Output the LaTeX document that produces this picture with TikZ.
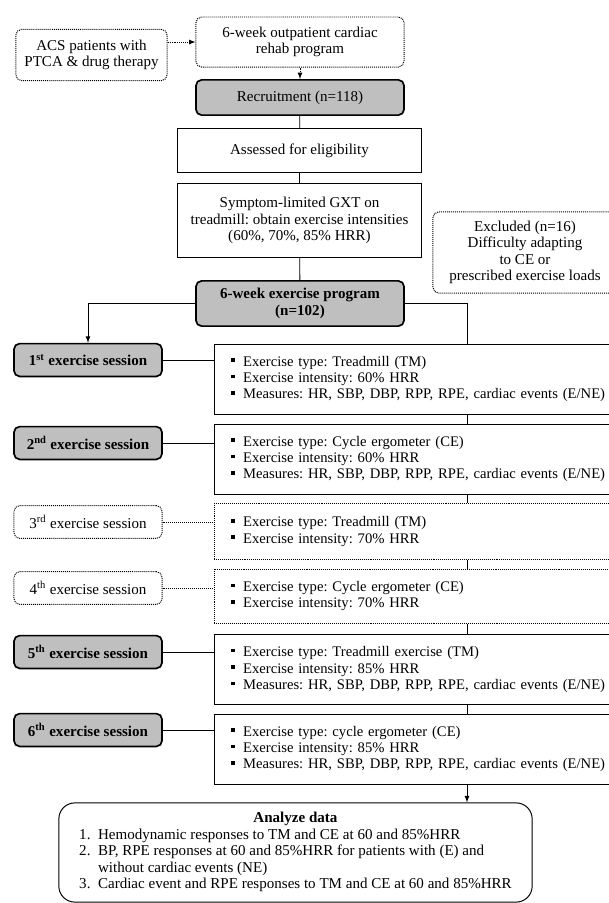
\documentclass[tikz,border=0pt]{standalone}
\usepackage{fontspec}
\setmainfont{Liberation Serif}
\usetikzlibrary{arrows}
\usetikzlibrary{positioning}
\tikzset{box/.style = {draw, line width = 0.7pt, align = center, inner sep = 2pt}}
\tikzset{graybox/.style = {box, fill = black!25, rounded corners = 4pt, line width = 1.2pt}}
\tikzset{dotbox/.style = {box, dash pattern = on 0.7pt off 0.7pt, rounded corners = 4pt}}
\tikzset{infobox/.style = {box, align = left, font = \fontsize{10.4}{11.7}\selectfont, text width = 10.2cm, inner xsep = 0.43cm, minimum height = #1}}
\tikzset{sessbox/.style = {minimum width = 3.7cm, minimum height = 0.82cm}}
\tikzset{dotline/.style = {line width = 0.6pt, dash pattern = on 0.7pt off 0.7pt}}
\tikzset{link/.style = {line width = 0.6pt}}
\newcommand{\sqb}{\raisebox{3pt}{\rule{2.5pt}{2.5pt}}\hspace{6pt}}

\begin{document}
\frenchspacing
\fontsize{10.7}{11.7}\selectfont
\begin{tikzpicture}[x = 0.025cm, y = -0.025cm]
      \useasboundingbox (0, 0) rectangle (608, 903);
      \node [dotbox, minimum width = 3.78cm, minimum height = 1.28cm] (acs) at (91.5, 55) {ACS patients with\\PTCA \& drug therapy};
      \node [dotbox, minimum width = 5.2cm, minimum height = 1.25cm] (out) at (300, 42) {6-week outpatient cardiac\\rehab program};
      \node [graybox, minimum width = 5.2cm, minimum height = 0.88cm] (rec) at (300, 97.5) {Recruitment (n=118)};
      \node [box, minimum width = 6.08cm, minimum height = 1.08cm] (assess) at (299.5, 150.5) {Assessed for eligibility};
      \node [box, minimum width = 6.08cm, minimum height = 1.83cm] (gxt) at (299.5, 220.5) {Symptom-limited GXT on\\treadmill: obtain exercise intensities\\(60\%, 70\%, 85\% HRR)};
      \node [dotbox, minimum width = 4.6cm, minimum height = 2.03cm] (excl) at (525, 252.5) {Excluded (n=16)\\Difficulty adapting\\to CE or\\prescribed exercise loads};
      \node [graybox, font = \bfseries, minimum width = 5.2cm, minimum height = 1.13cm] (prog) at (300, 303.5) {6-week exercise program\\(n=102)};

      \node [graybox, sessbox, font = \bfseries] (s1) at (88, 360) {1\textsuperscript{st} exercise session};
      \node [graybox, sessbox, font = \bfseries] (s2) at (88, 443) {2\textsuperscript{nd} exercise session};
      \node [dotbox, sessbox] (s3) at (88, 522) {3\textsuperscript{rd} exercise session};
      \node [dotbox, sessbox] (s4) at (88, 588) {4\textsuperscript{th} exercise session};
      \node [graybox, sessbox, font = \bfseries] (s5) at (88, 652) {5\textsuperscript{th} exercise session};
      \node [graybox, sessbox, font = \bfseries] (s6) at (88, 730) {6\textsuperscript{th} exercise session};

      \node [infobox = 1.75cm, anchor = west] (b1) at (213.5, 379) {\sqb Exercise type: Treadmill (TM)\\\sqb Exercise intensity: 60\% HRR\\\sqb Measures: HR, SBP, DBP, RPP, RPE, cardiac events (E/NE)};
      \node [infobox = 1.75cm, anchor = west] (b2) at (213.5, 459) {\sqb Exercise type: Cycle ergometer (CE)\\\sqb Exercise intensity: 60\% HRR\\\sqb Measures: HR, SBP, DBP, RPP, RPE, cardiac events (E/NE)};
      \node [infobox = 1.38cm, anchor = west, dash pattern = on 0.7pt off 0.7pt] (b3) at (213.5, 531.5) {\sqb Exercise type: Treadmill (TM)\\\sqb Exercise intensity: 70\% HRR};
      \node [infobox = 1.35cm, anchor = west, dash pattern = on 0.7pt off 0.7pt] (b4) at (213.5, 596) {\sqb Exercise type: Cycle ergometer (CE)\\\sqb Exercise intensity: 70\% HRR};
      \node [infobox = 1.73cm, anchor = west] (b5) at (213.5, 669.5) {\sqb Exercise type: Treadmill exercise (TM)\\\sqb Exercise intensity: 85\% HRR\\\sqb Measures: HR, SBP, DBP, RPP, RPE, cardiac events (E/NE)};
      \node [infobox = 1.75cm, anchor = west] (b6) at (213.5, 749) {\sqb Exercise type: cycle ergometer (CE)\\\sqb Exercise intensity: 85\% HRR\\\sqb Measures: HR, SBP, DBP, RPP, RPE, cardiac events (E/NE)};

      \node [box, rounded corners = 0.4cm, minimum width = 11.83cm, minimum height = 2.48cm] (an) at (295.5, 852.5) {\begin{tabular}{@{}r@{\ \ }l@{}}
        \multicolumn{2}{c}{\textbf{Analyze data}}\\
        1. & Hemodynamic responses to TM and CE at 60 and 85\%HRR\\
        2. & BP, RPE responses at 60 and 85\%HRR for patients with (E) and\\
           & without cardiac events (NE)\\
        3. & Cardiac event and RPE responses to TM and CE at 60 and 85\%HRR
      \end{tabular}};

      \coordinate (trunk) at (467, 0);
      \draw [dotline, -latex] (acs.east |- out.west) -- (out.west);
      \draw [dotline, -latex] (out) -- (rec);
      \draw [link] (rec) -- (assess);
      \draw [link] (assess) -- (gxt);
      \draw [link] (gxt) -- (prog);
      \draw [link, -latex] (prog.west) -| (s1.north);
      \draw [link] (prog.east) -| (trunk |- b1.north);
      \foreach \a/\b in {1/2, 2/3, 3/4, 4/5, 5/6}
        \draw [link] (trunk |- b\a.south) -- (trunk |- b\b.north);
      \draw [link, -latex] (trunk |- b6.south) -- (trunk |- an.north);
      \foreach \i in {1, 2, 5, 6}
        \draw [link] (s\i.east) -- (s\i.east -| b\i.west);
      \foreach \i in {3, 4}
        \draw [dotline] (s\i.east) -- (s\i.east -| b\i.west);
    \end{tikzpicture}
\end{document}
